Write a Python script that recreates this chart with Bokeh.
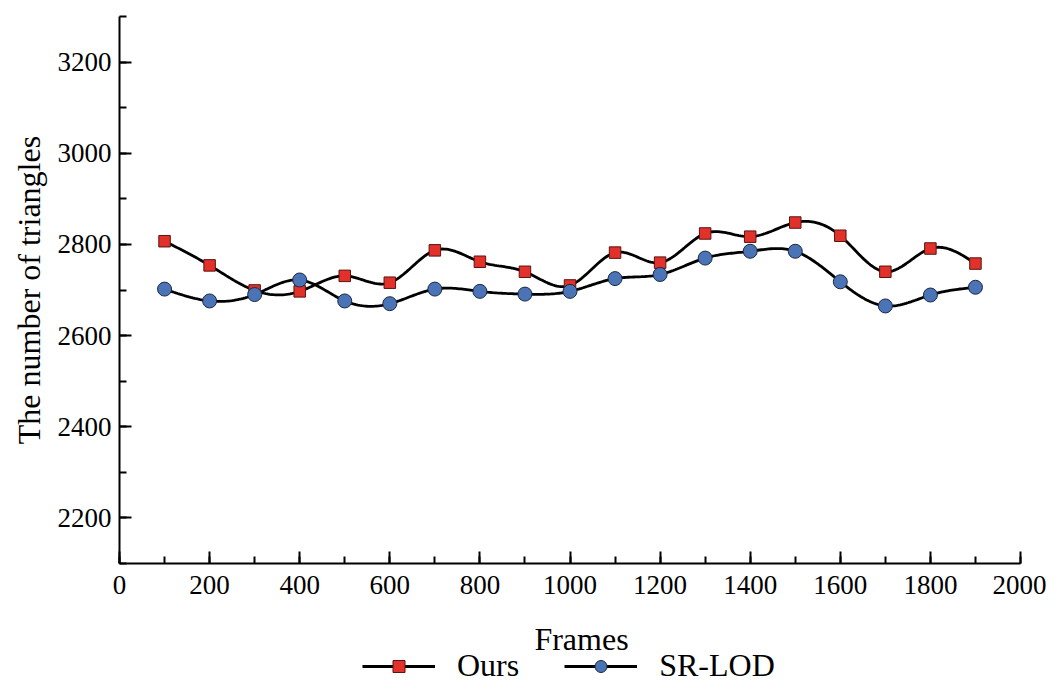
import numpy as np
from bokeh.plotting import figure
from bokeh.layouts import column
from bokeh.models import Legend, LegendItem, Range1d, FixedTicker, Label
from bokeh.embed import file_html
from bokeh.resources import INLINE

frames = [100, 200, 300, 400, 500, 600, 700, 800, 900, 1000,
          1100, 1200, 1300, 1400, 1500, 1600, 1700, 1800, 1900]
ours = [2807, 2754, 2699, 2697, 2731, 2716, 2787, 2762, 2740, 2710,
        2782, 2760, 2824, 2817, 2848, 2819, 2740, 2791, 2758]
srlod = [2702, 2676, 2690, 2722, 2676, 2670, 2702, 2697, 2691, 2697,
         2725, 2734, 2770, 2785, 2785, 2718, 2665, 2689, 2706]
x_ticks = [0, 200, 400, 600, 800, 1000, 1200, 1400, 1600, 1800, 2000]
y_ticks = [2200, 2400, 2600, 2800, 3000, 3200]
series_names = ["Ours", "SR-LOD"]


def natural_spline(x, y, n=24):
    x = np.asarray(x, float)
    y = np.asarray(y, float)
    m = len(x)
    h = np.diff(x)
    A = np.zeros((m, m))
    b = np.zeros(m)
    A[0, 0] = 1
    A[-1, -1] = 1
    for i in range(1, m - 1):
        A[i, i - 1] = h[i - 1]
        A[i, i] = 2 * (h[i - 1] + h[i])
        A[i, i + 1] = h[i]
        b[i] = 6 * ((y[i + 1] - y[i]) / h[i] - (y[i] - y[i - 1]) / h[i - 1])
    M = np.linalg.solve(A, b)
    xs, ys = [], []
    for i in range(m - 1):
        t = np.linspace(x[i], x[i + 1], n, endpoint=(i == m - 2))
        a = x[i + 1] - t
        c = t - x[i]
        s = (M[i] * a ** 3 + M[i + 1] * c ** 3) / (6 * h[i]) \
            + (y[i] / h[i] - M[i] * h[i] / 6) * a \
            + (y[i + 1] / h[i] - M[i + 1] * h[i] / 6) * c
        xs.extend(t)
        ys.extend(s)
    return xs, ys


FONT = "Liberation Serif"
RED = "#e2302a"
RED_EDGE = "#5a1510"
BLUE = "#4a74b5"
BLUE_EDGE = "#1c2840"
LW = 2.8
W = 1046

# ---------------- main chart ----------------
p = figure(width=W, height=604, output_backend="svg", toolbar_location=None,
           x_range=Range1d(0, 2000), y_range=Range1d(2100, 3300),
           min_border_left=119, min_border_right=W - 1020, min_border_top=16,
           min_border_bottom=41)
p.outline_line_color = None
p.grid.grid_line_color = None

xo, yo = natural_spline(frames, ours)
xs, ys = natural_spline(frames, srlod)
p.line(xo, yo, line_color="black", line_width=LW)
p.line(xs, ys, line_color="black", line_width=LW)
p.scatter(frames, ours, marker="square", size=11.5, fill_color=RED,
          line_color=RED_EDGE, line_width=1)
p.scatter(frames, srlod, marker="circle", size=14, fill_color=BLUE,
          line_color=BLUE_EDGE, line_width=1)

for ax in (p.xaxis[0], p.yaxis[0]):
    ax.axis_line_width = 2
    ax.axis_line_color = "black"
    ax.major_tick_line_width = 2
    ax.minor_tick_line_width = 2
    ax.major_tick_in = 12
    ax.major_tick_out = 0
    ax.minor_tick_in = 7
    ax.minor_tick_out = 0
    ax.major_label_text_font = FONT
    ax.major_label_text_font_size = "27px"
    ax.major_label_text_color = "black"
    ax.axis_label_text_font = FONT
    ax.axis_label_text_font_size = "32px"
    ax.axis_label_text_font_style = "normal"
    ax.axis_label_text_color = "black"

p.xaxis.ticker = FixedTicker(ticks=x_ticks, minor_ticks=list(range(0, 2001, 100)))
p.yaxis.ticker = FixedTicker(ticks=y_ticks, minor_ticks=list(range(2100, 3301, 100)))
p.yaxis.axis_label = "The number of triangles"
p.xaxis.major_label_standoff = 12
p.yaxis.major_label_standoff = 8
p.yaxis.axis_label_standoff = 8

# ---------------- axis title + legend strip ----------------
# frame of this strip is aligned with the chart frame (x 119..1020 on the page)
q = figure(width=W, height=80, output_backend="svg", toolbar_location=None,
           x_axis_type=None, y_axis_type=None,
           x_range=Range1d(119, 1020), y_range=Range1d(684, 604), min_border=0)
q.outline_line_color = None
q.grid.visible = False

q.add_layout(Label(x=581, y=638, text="Frames", text_align="center",
                   text_baseline="alphabetic", text_font=FONT,
                   text_font_size="32px", text_color="black"))

r1 = q.line([-10, -5], [-10, -10], line_color="black", line_width=LW)
s1 = q.scatter([-10], [-10], marker="square", size=11.5, fill_color=RED,
               line_color=RED_EDGE, line_width=1)
r2 = q.line([-10, -5], [-10, -10], line_color="black", line_width=LW)
s2 = q.scatter([-10], [-10], marker="circle", size=14, fill_color=BLUE,
               line_color=BLUE_EDGE, line_width=1)

legend = Legend(items=[LegendItem(label=series_names[0], renderers=[r1, s1]),
                       LegendItem(label=series_names[1], renderers=[r2, s2])],
                orientation="horizontal", location=(243, 0),
                border_line_color=None, background_fill_alpha=0,
                label_text_font=FONT, label_text_font_size="32px",
                label_text_color="black",
                glyph_width=73, glyph_height=30, label_standoff=22,
                spacing=45, padding=0, margin=0)
q.add_layout(legend, "center")

layout = column(p, q, spacing=0)
open("out.html", "w").write(file_html(layout, INLINE))
